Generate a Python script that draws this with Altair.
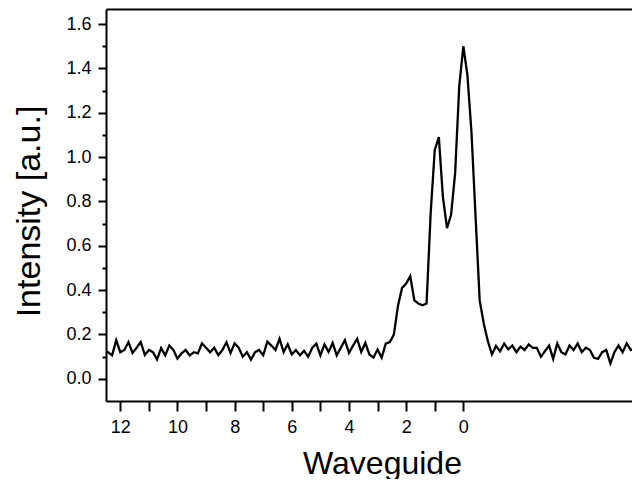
import altair as alt
import pandas as pd

# Intensity readings, ordered from waveguide position 88/7 down to -44/7 (grid step 1/7)
intensity = [
    0.13, 0.12, 0.106, 0.174, 0.12, 0.13, 0.166, 0.117, 0.14, 0.166,
    0.108, 0.13, 0.12, 0.087, 0.139, 0.106, 0.15, 0.13, 0.091, 0.115,
    0.13, 0.106, 0.12, 0.115, 0.16, 0.14, 0.12, 0.14, 0.107, 0.13,
    0.165, 0.117, 0.16, 0.14, 0.10, 0.12, 0.087, 0.12, 0.13, 0.106,
    0.168, 0.15, 0.13, 0.18, 0.121, 0.156, 0.11, 0.13, 0.106, 0.126,
    0.10, 0.14, 0.159, 0.106, 0.156, 0.121, 0.162, 0.106, 0.14, 0.174,
    0.117, 0.15, 0.181, 0.121, 0.162, 0.11, 0.096, 0.132, 0.096, 0.159,
    0.166, 0.20, 0.33, 0.41, 0.43, 0.463, 0.354, 0.34, 0.332, 0.34,
    0.747, 1.032, 1.09, 0.82, 0.68, 0.74, 0.93, 1.32, 1.5, 1.37,
    1.11, 0.73, 0.354, 0.25, 0.17, 0.11, 0.148, 0.124, 0.159, 0.133,
    0.15, 0.12, 0.145, 0.13, 0.155, 0.14, 0.14, 0.10, 0.125, 0.15,
    0.09, 0.16, 0.12, 0.11, 0.15, 0.13, 0.16, 0.12, 0.14, 0.13,
    0.095, 0.09, 0.12, 0.13, 0.07, 0.12, 0.15, 0.12, 0.16, 0.13,
    0.14, 0.155, 0.13,
]
positions = [k / 7 for k in range(88, -45, -1)]

x_ticks = list(range(0, 13))
y_ticks = [round(i * 0.1, 1) for i in range(17)]

df = pd.DataFrame({"waveguide": positions, "intensity": intensity})

W, H = 526, 392
FONT = "Liberation Sans"

x_scale = alt.Scale(domain=[-5.9, 12.5], reverse=True, nice=False, zero=False)
y_scale = alt.Scale(domain=[-0.1, 1.668], nice=False, zero=False)

line = alt.Chart(df).mark_line(color="black", strokeWidth=2.3, clip=True).encode(
    x=alt.X(
        "waveguide:Q",
        scale=x_scale,
        axis=alt.Axis(
            values=x_ticks,
            labelExpr="datum.value % 2 == 0 ? format(datum.value, 'd') : ''",
            title="Waveguide",
            titleFont=FONT, titleFontSize=32, titleFontWeight="normal", titleColor="black",
            titleX=276, titleY=62, titleBaseline="middle", titleAlign="center",
            labelFont=FONT, labelFontSize=18, labelColor="black", labelPadding=7,
            labelFlush=False, labelOverlap=False,
            tickSize=10, tickWidth=2, tickColor="black",
            domainColor="black", domainWidth=2, grid=False,
        ),
    ),
    y=alt.Y(
        "intensity:Q",
        scale=y_scale,
        axis=alt.Axis(
            values=y_ticks,
            labelExpr="round(datum.value * 10) % 2 == 0 ? format(datum.value, '.1f') : ''",
            title="Intensity [a.u.]",
            titleFont=FONT, titleFontSize=34, titleFontWeight="normal", titleColor="black",
            titleX=-77, titleY=202, titleBaseline="middle", titleAlign="center", titleAngle=270,
            labelFont=FONT, labelFontSize=18, labelColor="black", labelPadding=7,
            labelFlush=False, labelOverlap=False,
            tickSize={"condition": {"test": "round(datum.value * 10) % 2 != 0", "value": 4}, "value": 8},
            tickWidth=2, tickColor="black",
            domainColor="black", domainWidth=2, grid=False,
        ),
    ),
)

top = alt.Chart(df).mark_line(opacity=0).encode(
    x=alt.X(
        "waveguide:Q",
        scale=x_scale,
        axis=alt.Axis(orient="top", labels=False, ticks=False, title=None,
                      domainColor="black", domainWidth=2, grid=False),
    ),
    y=alt.Y("intensity:Q", scale=y_scale, axis=None),
)

chart = (
    alt.layer(line, top)
    .resolve_axis(x="independent", y="independent")
    .properties(
        width=W,
        height=H,
        autosize=alt.AutoSizeParams(type="none"),
        padding={"left": 98, "top": 1, "right": 0, "bottom": 78},
    )
    .configure_view(stroke=None)
)

chart.save("out.html", embed_options={"renderer": "svg", "actions": False})
